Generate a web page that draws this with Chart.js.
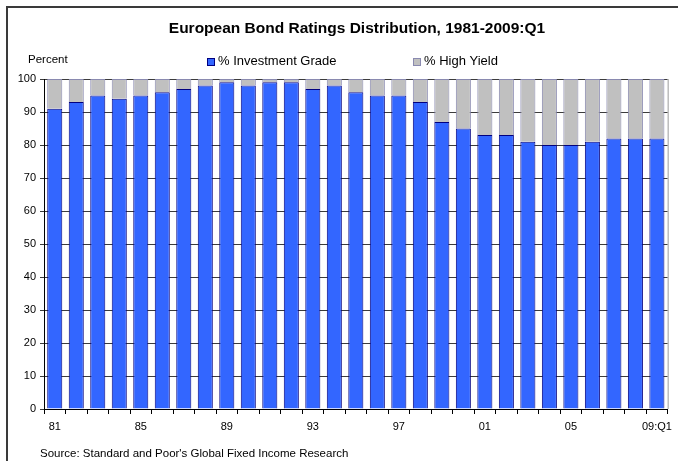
<!DOCTYPE html>
<html>
<head>
<meta charset="utf-8">
<script src="https://cdn.jsdelivr.net/npm/chart.js@4/dist/chart.umd.min.js"></script>
<style>
  html, body { margin: 0; padding: 0; background: #fff; }
  #wrap { width: 678px; height: 461px; position: relative; }
</style>
</head>
<body>
<div id="wrap"><canvas id="c" width="678" height="461"></canvas></div>
<script>
// Years 1981 .. 2009:Q1
const years = ['81','82','83','84','85','86','87','88','89','90','91','92','93','94','95',
               '96','97','98','99','00','01','02','03','04','05','06','07','08','09:Q1'];
// Share of rated European bonds, percent
const investmentGrade = [91,93,95,94,95,96,97,98,99,98,99,99,97,98,96,95,95,93,87,85,83,83,81,80,80,81,82,82,82];
const highYield       = [ 9, 7, 5, 6, 5, 4, 3, 2, 1, 2, 1, 1, 3, 2, 4, 5, 5, 7,13,15,17,17,19,20,20,19,18,18,18];
const yTicks = [0,10,20,30,40,50,60,70,80,90,100];
const shownYearLabels = ['81','85','89','93','97','01','05','09:Q1'];

const FONT = '"Liberation Sans", Arial, sans-serif';
const IG_COLOR = '#3366FF', IG_EDGE = '#000080';
const HY_COLOR = '#C0C0C0', HY_EDGE = '#8a8ab0';

// Frame, title, unit note, legend and source line
const decorations = {
  id: 'decorations',
  afterDraw(chart) {
    const ctx = chart.ctx;
    const a = chart.chartArea;
    ctx.save();
    // outer frame
    ctx.strokeStyle = '#3a3a3a';
    ctx.lineWidth = 2;
    ctx.beginPath();
    ctx.moveTo(7, 461); ctx.lineTo(7, 7); ctx.lineTo(678, 7);
    ctx.stroke();
    // right edge of the plot
    ctx.strokeStyle = '#9a9a9a';
    ctx.lineWidth = 1;
    ctx.beginPath();
    ctx.moveTo(a.right + 0.5, a.top); ctx.lineTo(a.right + 0.5, a.bottom);
    ctx.stroke();

    ctx.fillStyle = '#000';
    ctx.textBaseline = 'middle';
    ctx.font = 'bold 15.5px ' + FONT;
    ctx.textAlign = 'center';
    ctx.fillText('European Bond Ratings Distribution, 1981-2009:Q1', 357, 29);

    ctx.font = '11.5px ' + FONT;
    ctx.textAlign = 'left';
    ctx.fillText('Percent', 28, 60);

    // legend
    const items = chart.data.datasets.map(d => ({ label: d.label, fill: d.backgroundColor, edge: d.borderColor }));
    const xs = [207, 413];
    ctx.font = '13px ' + FONT;
    items.forEach((it, i) => {
      ctx.fillStyle = it.fill;
      ctx.fillRect(xs[i], 58, 7, 7);
      ctx.strokeStyle = it.edge;
      ctx.lineWidth = 1;
      ctx.strokeRect(xs[i] + 0.5, 58.5, 7, 7);
      ctx.fillStyle = '#000';
      ctx.fillText(it.label, xs[i] + 11, 61);
    });

    ctx.font = '11.5px ' + FONT;
    ctx.fillText("Source: Standard and Poor's Global Fixed Income Research", 40, 454);
    ctx.restore();
  }
};

new Chart(document.getElementById('c'), {
  type: 'bar',
  data: {
    labels: years,
    datasets: [
      { label: '% Investment Grade', data: investmentGrade, backgroundColor: IG_COLOR, borderColor: IG_EDGE, borderWidth: 1 },
      { label: '% High Yield', data: highYield, backgroundColor: HY_COLOR, borderColor: HY_EDGE, borderWidth: 1 }
    ]
  },
  options: {
    responsive: false,
    animation: false,
    devicePixelRatio: 1,
    layout: { padding: { top: 79, right: 7, left: 0, bottom: 0 } },
    plugins: { legend: { display: false }, title: { display: false }, tooltip: { enabled: false } },
    datasets: { bar: { categoryPercentage: 1.0, barPercentage: 0.7 } },
    scales: {
      x: {
        stacked: true,
        afterFit(s) { s.height = 52; },
        grid: { offset: true, drawOnChartArea: false, drawTicks: true, tickLength: 5, color: '#000' },
        border: { display: true, color: '#000', width: 1 },
        ticks: {
          autoSkip: false, maxRotation: 0, padding: 6,
          color: '#000', font: { family: FONT, size: 11 },
          callback(v, i) { const l = years[i]; return shownYearLabels.includes(l) ? l : ''; }
        }
      },
      y: {
        stacked: true, min: 0, max: 100,
        afterFit(s) { s.width = 44; },
        afterBuildTicks(s) { s.ticks = yTicks.map(v => ({ value: v })); },
        grid: { color: '#3c3c3c', lineWidth: 1, tickLength: 4, drawTicks: true },
        border: { display: true, color: '#000', width: 1 },
        ticks: { color: '#000', padding: 4, font: { family: FONT, size: 11 } }
      }
    }
  },
  plugins: [decorations]
});
</script>
</body>
</html>
